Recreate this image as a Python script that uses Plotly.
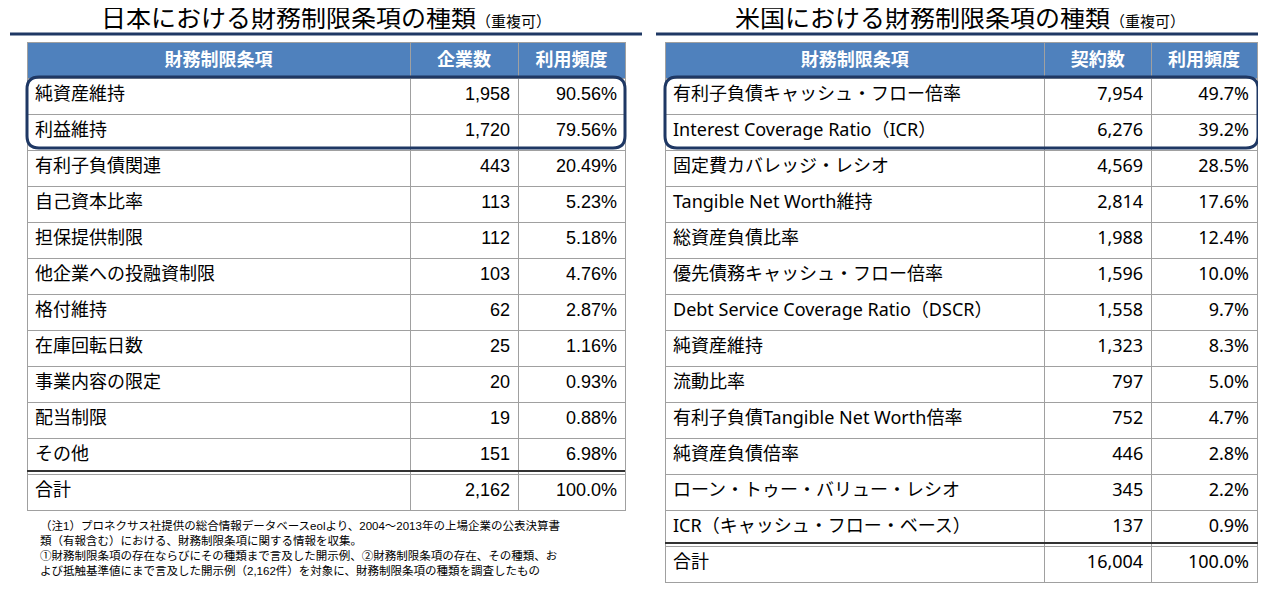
import plotly.graph_objects as go

OFF = 8  # default page body margin
W, H = 1266 - OFF, 590 - OFF

jp_items = ["純資産維持", "利益維持", "有利子負債関連", "自己資本比率", "担保提供制限", "他企業への投融資制限",
            "格付維持", "在庫回転日数", "事業内容の限定", "配当制限", "その他", "合計"]
jp_counts = ["1,958", "1,720", "443", "113", "112", "103", "62", "25", "20", "19", "151", "2,162"]
jp_freq = ["90.56%", "79.56%", "20.49%", "5.23%", "5.18%", "4.76%", "2.87%", "1.16%", "0.93%", "0.88%", "6.98%", "100.0%"]

us_items = ["有利子負債キャッシュ・フロー倍率", "Interest Coverage Ratio（ICR）", "固定費カバレッジ・レシオ",
            "Tangible Net Worth維持", "総資産負債比率", "優先債務キャッシュ・フロー倍率",
            "Debt Service Coverage Ratio（DSCR）", "純資産維持", "流動比率", "有利子負債Tangible Net Worth倍率",
            "純資産負債倍率", "ローン・トゥー・バリュー・レシオ", "ICR（キャッシュ・フロー・ベース）", "合計"]
us_counts = ["7,954", "6,276", "4,569", "2,814", "1,988", "1,596", "1,558", "1,323", "797", "752", "446", "345", "137", "16,004"]
us_freq = ["49.7%", "39.2%", "28.5%", "17.6%", "12.4%", "10.0%", "9.7%", "8.3%", "5.0%", "4.7%", "2.8%", "2.2%", "0.9%", "100.0%"]

FONT_JP = "Liberation Sans, Noto Sans CJK JP, sans-serif"
FONT_US = "Noto Sans, Noto Sans CJK JP, sans-serif"
HEAD = "#4F81BD"
NAVY = "#1F3864"

def px_x(x): return (x - OFF) / W
def px_y(y): return 1 - (y - OFF) / H
def cx(x): return x - OFF
def cy(y): return y - OFF

def table(x0, x1, headers, cols, widths, font):
    return go.Table(
        domain=dict(x=[px_x(x0), px_x(x1)], y=[0, px_y(42)]),
        columnwidth=widths,
        header=dict(values=[f"<b>{h}</b>" for h in headers], fill_color=HEAD,
                    font=dict(color="white", size=18, family=FONT_JP),
                    align="center", height=33, line=dict(color="#A0A0A0", width=1)),
        cells=dict(values=cols, fill_color="white",
                   font=dict(color="black", size=18, family=font),
                   align=["left", "right", "right"], height=36,
                   line=dict(color="#A0A0A0", width=1)),
    )

fig = go.Figure()
fig.add_trace(go.Scatter(x=[0, W], y=[0, H], mode="markers", marker=dict(opacity=0), hoverinfo="skip", showlegend=False))
fig.add_trace(table(27, 625, ["財務制限条項", "企業数", "利用頻度"], [jp_items, jp_counts, jp_freq], [383, 108, 107], FONT_JP))
fig.add_trace(table(665, 1258, ["財務制限条項", "契約数", "利用頻度"], [us_items, us_counts, us_freq], [380, 107, 106], FONT_US))

def rrect(x0, y0, x1, y1, r=12):
    X0, X1, Y0, Y1 = cx(x0), cx(x1), cy(y0), cy(y1)
    return (f"M{X0+r},{Y0} L{X1-r},{Y0} Q{X1},{Y0} {X1},{Y0+r} L{X1},{Y1-r} Q{X1},{Y1} {X1-r},{Y1} "
            f"L{X0+r},{Y1} Q{X0},{Y1} {X0},{Y1-r} L{X0},{Y0+r} Q{X0},{Y0} {X0+r},{Y0} Z")

def hline(x0, x1, y, color, w):
    return dict(type="line", xref="x", yref="y", x0=cx(x0), x1=cx(x1), y0=cy(y), y1=cy(y), line=dict(color=color, width=w))

shapes = [
    dict(type="path", xref="x", yref="y", path=rrect(27, 77, 625, 148), line=dict(color=NAVY, width=3)),
    dict(type="path", xref="x", yref="y", path=rrect(665, 77, 1258, 148), line=dict(color=NAVY, width=3)),
    hline(10, 642, 34, NAVY, 3),
    hline(656, 1266, 34, NAVY, 3),
    hline(27, 625, 75 + 36*11, "#333333", 2),
    hline(665, 1258, 75 + 36*13, "#333333", 2),
]

annotations = [
    dict(x=cx(326), y=cy(18), xref="x", yref="y", xanchor="center", yanchor="middle", showarrow=False,
         text="日本における財務制限条項の種類<span style='font-size:15px'>（重複可）</span>",
         font=dict(size=25, color="black", family=FONT_JP)),
    dict(x=cx(960), y=cy(18), xref="x", yref="y", xanchor="center", yanchor="middle", showarrow=False,
         text="米国における財務制限条項の種類<span style='font-size:15px'>（重複可）</span>",
         font=dict(size=25, color="black", family=FONT_JP)),
    dict(x=cx(38), y=cy(517), xref="x", yref="y", showarrow=False, xanchor="left", yanchor="top", align="left",
         text=("（注1）プロネクサス社提供の総合情報データベースeolより、2004～2013年の上場企業の公表決算書<br>"
               "類（有報含む）における、財務制限条項に関する情報を収集。<br>"
               "①財務制限条項の存在ならびにその種類まで言及した開示例、②財務制限条項の存在、その種類、お<br>"
               "よび抵触基準値にまで言及した開示例（2,162件）を対象に、財務制限条項の種類を調査したもの"),
         font=dict(size=11.5, color="black", family=FONT_JP)),
]

fig.update_layout(width=W, height=H, margin=dict(l=0, r=0, t=0, b=0), paper_bgcolor="white", plot_bgcolor="rgba(0,0,0,0)",
                  xaxis=dict(range=[0, W], visible=False, fixedrange=True, domain=[0, 1]),
                  yaxis=dict(range=[H, 0], visible=False, fixedrange=True, domain=[0, 1]),
                  shapes=shapes, annotations=annotations)
fig.write_html("out.html")
